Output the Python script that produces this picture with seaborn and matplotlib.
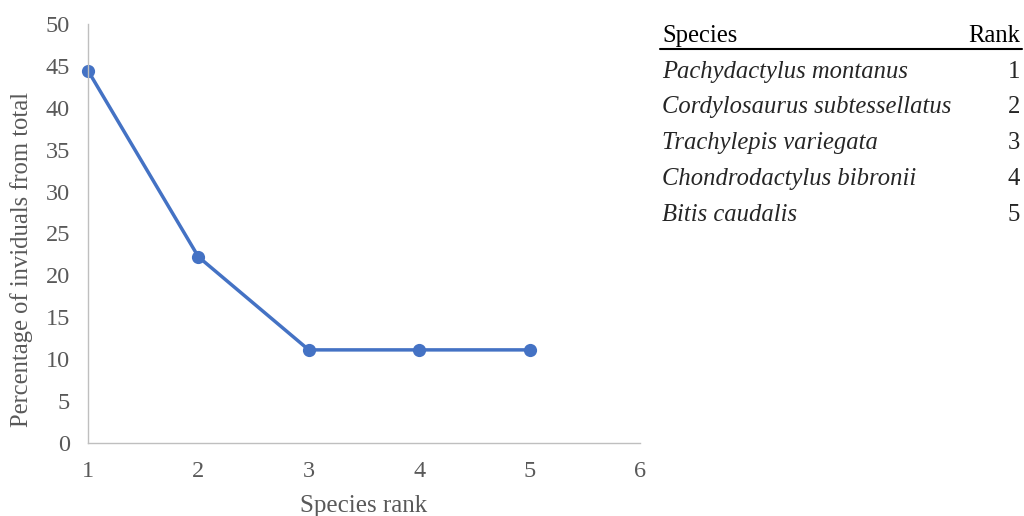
import matplotlib
matplotlib.use("Agg")
import matplotlib.pyplot as plt
import seaborn as sns
import pandas as pd

# data
ranks = [1, 2, 3, 4, 5]
percentages = [44.44, 22.22, 11.11, 11.11, 11.11]
species = [
    "Pachydactylus montanus",
    "Cordylosaurus subtessellatus",
    "Trachylepis variegata",
    "Chondrodactylus bibronii",
    "Bitis caudalis",
]
x_ticks = [1, 2, 3, 4, 5, 6]
y_ticks = [0, 5, 10, 15, 20, 25, 30, 35, 40, 45, 50]

sns.set_theme(style="white")
plt.rcParams["font.family"] = ["Liberation Serif", "DejaVu Serif"]

df = pd.DataFrame({"rank": ranks, "pct": percentages})

fig = plt.figure(figsize=(10.24, 5.16), dpi=100)
ax = fig.add_axes([0.0859, 0.1415, 0.5391, 0.812])

sns.lineplot(data=df, x="rank", y="pct", ax=ax, color="#4472C4",
             linewidth=2.5, marker="o", markersize=9.5, markeredgewidth=0,
             clip_on=False)

ax.set_xlim(1, 6)
ax.set_ylim(0, 50)
ax.set_xticks(x_ticks)
ax.set_yticks(y_ticks)
ax.tick_params(axis="both", colors="#595959", labelsize=17.5, length=0, pad=13)
ax.set_xlabel("Species rank", fontsize=18, color="#595959", va="center")
ax.set_ylabel("Percentage of inviduals from total", fontsize=17.7, color="#595959", va="center")
ax.xaxis.set_label_coords(0.5, -0.15)
ax.yaxis.set_label_coords(-0.12, 0.437)
for s in ["top", "right"]:
    ax.spines[s].set_visible(False)
for s in ["left", "bottom"]:
    ax.spines[s].set_color("#BFBFBF")
    ax.spines[s].set_linewidth(1.0)
ax.grid(False)

# species table on the right
x_left = 662 / 1024
x_right = 1020 / 1024
fs = 17.7
fig.text(x_left, 1 - 42 / 516, "Species", fontsize=fs, color="black", va="baseline", ha="left")
fig.text(x_right, 1 - 42 / 516, "Rank", fontsize=fs, color="black", va="baseline", ha="right")
fig.add_artist(plt.Line2D([660 / 1024, 1022 / 1024], [1 - 49 / 516, 1 - 49 / 516],
                          color="black", linewidth=1.5))
row_y = [78, 113, 149, 185, 221]
for name, r, y in zip(species, ranks, row_y):
    fig.text(x_left, 1 - y / 516, name, fontsize=fs, style="italic", va="baseline", ha="left")
    fig.text(x_right, 1 - y / 516, str(r), fontsize=fs, va="baseline", ha="right")

fig.savefig("out.png", dpi=100)
